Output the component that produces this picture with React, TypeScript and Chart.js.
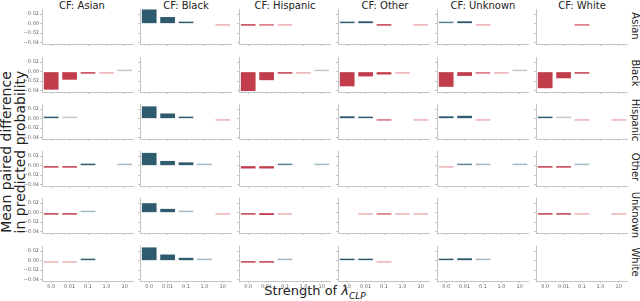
import React, { useEffect, useRef } from "react";
import { Chart, registerables } from "chart.js";
Chart.register(...registerables);

// λ_CLP strengths (x categories)
const lambdaLabels = ["0.0", "0.01", "0.1", "1.0", "10"];
// facet rows (true race) and columns (counterfactual race)
const races = ["Asian", "Black", "Hispanic", "Other", "Unknown", "White"];
const yTickValues = [0.02, 0.0, -0.02, -0.04];

// Mean paired difference; one array per true race, one inner array per CF race
const N = null;
const diffAsian = [
  [N, N, N, N, N],
  [0.030, 0.014, 0.004, N, -0.002],
  [-0.003, -0.002, -0.002, N, N],
  [0.003, 0.005, -0.003, N, -0.002],
  [0.002, 0.005, -0.002, N, N],
  [N, N, -0.003, N, N],
];
const diffBlack = [
  [-0.038, -0.017, -0.004, -0.002, 0.002],
  [N, N, N, N, N],
  [-0.041, -0.018, -0.004, -0.002, 0.002],
  [-0.031, -0.010, -0.006, -0.001, N],
  [-0.032, -0.009, -0.004, -0.002, 0.002],
  [-0.035, -0.014, -0.004, N, N],
];
const diffHispanic = [
  [0.003, 0.002, N, N, N],
  [0.026, 0.011, 0.003, N, -0.001],
  [N, N, N, N, N],
  [0.005, 0.004, -0.002, N, -0.001],
  [0.005, 0.006, -0.001, N, N],
  [0.003, 0.001, -0.001, N, -0.001],
];
const diffOther = [
  [-0.003, -0.003, 0.003, N, 0.001],
  [0.027, 0.010, 0.007, 0.002, N],
  [-0.006, -0.006, 0.002, N, 0.001],
  [N, N, N, N, N],
  [-0.002, 0.002, 0.001, N, 0.001],
  [-0.003, -0.003, 0.001, N, N],
];
const diffUnknown = [
  [-0.003, -0.004, 0.002, N, N],
  [0.020, 0.008, 0.003, N, -0.002],
  [-0.004, -0.005, -0.002, N, N],
  [N, -0.002, -0.003, -0.002, -0.002],
  [N, N, N, N, N],
  [-0.003, -0.004, -0.002, N, -0.002],
];
const diffWhite = [
  [-0.002, -0.002, 0.003, N, N],
  [0.028, 0.013, 0.006, 0.002, N],
  [-0.004, -0.003, 0.002, N, N],
  [0.003, 0.003, -0.002, N, N],
  [0.002, 0.005, 0.001, N, N],
  [N, N, N, N, N],
];
const allDiffs = [diffAsian, diffBlack, diffHispanic, diffOther, diffUnknown, diffWhite];

// colour strength of each bar (3 strong, 2 medium, 1 pale, 0 neutral grey)
const levelAsian = [
  [0, 0, 0, 0, 0], [3, 3, 3, 0, 1], [3, 2, 1, 0, 0], [3, 3, 3, 0, 1], [2, 3, 1, 0, 0], [0, 0, 2, 0, 0],
];
const levelBlack = [
  [3, 3, 3, 1, 0], [0, 0, 0, 0, 0], [3, 3, 3, 1, 0], [3, 3, 3, 1, 0], [3, 3, 2, 1, 0], [3, 3, 3, 0, 0],
];
const levelHispanic = [
  [3, 0, 0, 0, 0], [3, 3, 3, 0, 1], [0, 0, 0, 0, 0], [3, 3, 2, 0, 1], [3, 3, 1, 0, 0], [3, 0, 1, 0, 1],
];
const levelOther = [
  [3, 3, 3, 0, 1], [3, 3, 3, 1, 0], [3, 3, 2, 0, 1], [0, 0, 0, 0, 0], [1, 2, 1, 0, 1], [3, 3, 1, 0, 0],
];
const levelUnknown = [
  [3, 3, 1, 0, 0], [3, 3, 1, 0, 1], [3, 3, 1, 0, 0], [0, 1, 2, 1, 1], [0, 0, 0, 0, 0], [3, 3, 1, 0, 1],
];
const levelWhite = [
  [1, 1, 3, 0, 0], [3, 3, 3, 1, 0], [3, 3, 1, 0, 0], [3, 3, 1, 0, 0], [3, 3, 1, 0, 0], [0, 0, 0, 0, 0],
];
const allLevels = [levelAsian, levelBlack, levelHispanic, levelOther, levelUnknown, levelWhite];

const POS = ["#c6c6c6", "#a3b9c3", "#5a8293", "#2e5b6e"];
const NEG = ["#c6c6c6", "#ecadb4", "#d56d79", "#c13d4c"];
const FONT = "'DejaVu Sans', sans-serif";

const PLOT_W = 92;
const PLOT_H = 35;
const AXIS_L = 20;
const AXIS_B = 14;
const colLeft = (c: number) => Math.round(41.5 + 98.8 * c);
const rowTop = (r: number) => Math.round(9.4 + 47.25 * r);

function Panel({ row, col }: { row: number; col: number }) {
  const ref = useRef<HTMLCanvasElement | null>(null);
  useEffect(() => {
    const values = allDiffs[row][col];
    const levels = allLevels[row][col];
    const colors = values.map((v, i) =>
      v == null ? "transparent" : levels[i] === 0 ? POS[0] : v >= 0 ? POS[levels[i]] : NEG[levels[i]]
    );
    const isLeft = col === 0;
    const isBottom = row === 5;
    const chart = new Chart(ref.current as HTMLCanvasElement, {
      type: "bar",
      data: {
        labels: lambdaLabels,
        datasets: [
          {
            data: values as any,
            backgroundColor: colors,
            borderWidth: 0,
            barPercentage: 0.8,
            categoryPercentage: 1,
            minBarLength: 2,
          },
        ],
      },
      options: {
        animation: false,
        responsive: false,
        maintainAspectRatio: false,
        devicePixelRatio: 1,
        events: [],
        layout: { padding: 0 },
        plugins: { legend: { display: false }, tooltip: { enabled: false } },
        scales: {
          x: {
            type: "category",
            offset: true,
            grid: { display: true, offset: false, drawOnChartArea: false, drawTicks: true, tickLength: 2, color: "#c4c4c4" },
            border: { display: true, color: "#c4c4c4" },
            ticks: { display: isBottom, autoSkip: false, maxRotation: 0, padding: 1, color: "#666", font: { size: 5, family: FONT } },
            afterFit: (s: any) => {
              s.height = AXIS_B;
              s.paddingLeft = 0;
              s.paddingRight = 0;
            },
          },
          y: {
            type: "linear",
            min: -0.043,
            max: 0.031,
            afterBuildTicks: (s: any) => {
              s.ticks = yTickValues.map((v) => ({ value: v }));
            },
            grid: { display: true, drawOnChartArea: false, drawTicks: true, tickLength: 2, color: "#c4c4c4" },
            border: { display: true, color: "#c4c4c4" },
            ticks: {
              display: isLeft,
              padding: 1,
              color: "#666",
              font: { size: 5, family: FONT },
              callback: (v: any) => (Number(v) < 0 ? "\u2212" : "") + Math.abs(Number(v)).toFixed(2),
            },
            afterFit: (s: any) => {
              s.width = AXIS_L;
              s.paddingTop = 0;
              s.paddingBottom = 0;
            },
          },
        },
      } as any,
    });
    return () => chart.destroy();
  }, [row, col]);
  return (
    <canvas
      ref={ref}
      width={AXIS_L + PLOT_W}
      height={PLOT_H + AXIS_B}
      style={{
        position: "absolute",
        left: colLeft(col) - AXIS_L,
        top: rowTop(row),
        width: AXIS_L + PLOT_W,
        height: PLOT_H + AXIS_B,
      }}
    />
  );
}

const titleX = [82, 186, 285, 385, 483, 582];

export default function App() {
  const panels: any[] = [];
  for (let r = 0; r < 6; r++) for (let c = 0; c < 6; c++) panels.push(<Panel key={r + "-" + c} row={r} col={c} />);
  return (
    <div
      style={{
        position: "fixed",
        left: 0,
        top: 0,
        width: 640,
        height: 301,
        background: "#fff",
        fontFamily: FONT,
        color: "#222",
        overflow: "hidden",
      }}
    >
      {races.map((name, c) => (
        <div
          key={"t" + c}
          style={{ position: "absolute", left: titleX[c], top: 5, transform: "translate(-50%,-50%)", fontSize: 10, whiteSpace: "nowrap" }}
        >
          {"CF: " + name}
        </div>
      ))}
      {races.map((name, r) => (
        <div
          key={"r" + r}
          style={{
            position: "absolute",
            left: 635,
            top: 25.5 + 47.25 * r,
            transform: "translate(-50%,-50%) rotate(90deg)",
            fontSize: 10,
            whiteSpace: "nowrap",
          }}
        >
          {name}
        </div>
      ))}
      <div
        style={{
          position: "absolute",
          left: 13,
          top: 152,
          transform: "translate(-50%,-50%) rotate(-90deg)",
          fontSize: 14,
          lineHeight: "14px",
          textAlign: "center",
          whiteSpace: "nowrap",
        }}
      >
        Mean paired difference
        <br />
        in predicted probability
      </div>
      <div
        style={{
          position: "absolute",
          left: 315,
          top: 292,
          transform: "translate(-50%,-50%)",
          fontSize: 13,
          whiteSpace: "nowrap",
        }}
      >
        Strength of <i>λ</i>
        <sub style={{ fontSize: 9, fontStyle: "italic" }}>CLP</sub>
      </div>
      {panels}
    </div>
  );
}
